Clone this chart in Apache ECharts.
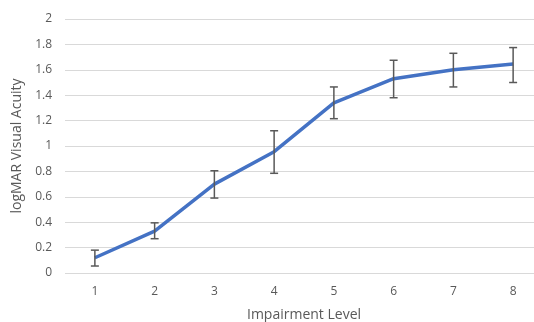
<!DOCTYPE html>
<html>
<head>
<meta charset="utf-8">
<script src="https://cdn.jsdelivr.net/npm/echarts@6/dist/echarts.min.js"></script>
<style>
  html, body { margin: 0; padding: 0; background: #fff; }
  #chart { width: 534px; height: 322px; }
</style>
</head>
<body>
<div id="chart"></div>
<script>
// impairment levels and mean logMAR acuity, with error bar ends
const levels = ['1', '2', '3', '4', '5', '6', '7', '8']
const acuity = [0.12, 0.33, 0.70, 0.955, 1.34, 1.53, 1.60, 1.645]
const errLow = [0.055, 0.27, 0.59, 0.785, 1.215, 1.38, 1.465, 1.50]
const errHigh = [0.18, 0.395, 0.805, 1.12, 1.465, 1.675, 1.73, 1.775]
const yTicks = { min: 0, max: 2, interval: 0.2 }

const textColor = '#595959'
const font = '"Open Sans", "Liberation Sans", sans-serif'

const chart = echarts.init(document.getElementById('chart'))

chart.setOption({
  animation: false,
  grid: { left: 65, right: -9, top: 19, bottom: 49, outerBoundsMode: 'none', containLabel: false },
  xAxis: {
    type: 'category',
    data: levels,
    name: 'Impairment Level',
    nameLocation: 'middle',
    nameGap: 35,
    nameTextStyle: { fontSize: 14, color: textColor, fontFamily: font },
    axisLine: { show: false },
    axisTick: { show: false },
    axisLabel: { fontSize: 12, color: textColor, fontFamily: font, margin: 13 },
  },
  yAxis: {
    type: 'value',
    min: yTicks.min, max: yTicks.max, interval: yTicks.interval,
    name: 'logMAR Visual Acuity',
    nameLocation: 'middle',
    nameGap: 40,
    nameTextStyle: { fontSize: 14, color: textColor, fontFamily: font },
    axisLine: { show: false },
    axisTick: { show: false },
    axisLabel: {
      fontSize: 12, color: textColor, fontFamily: font, margin: 13,
      formatter: v => String(Math.round(v * 10) / 10),
    },
    splitLine: { lineStyle: { color: '#d9d9d9', width: 1 } },
  },
  series: [
    {
      type: 'line',
      data: acuity,
      symbol: 'none',
      lineStyle: { color: '#4472c4', width: 3.5 },
      z: 2,
    },
    {
      type: 'custom',
      data: levels.map((l, i) => [i, errLow[i], errHigh[i]]),
      renderItem: (params, api) => {
        const lo = api.coord([api.value(0), api.value(1)])
        const hi = api.coord([api.value(0), api.value(2)])
        const w = 4
        const style = { stroke: '#595959', lineWidth: 1.5 }
        return {
          type: 'group',
          children: [
            { type: 'line', shape: { x1: lo[0], y1: lo[1], x2: hi[0], y2: hi[1] }, style },
            { type: 'line', shape: { x1: lo[0] - w, y1: lo[1], x2: lo[0] + w, y2: lo[1] }, style },
            { type: 'line', shape: { x1: hi[0] - w, y1: hi[1], x2: hi[0] + w, y2: hi[1] }, style },
          ],
        }
      },
      encode: { x: 0, y: [1, 2] },
      z: 3,
    },
  ],
})
</script>
</body>
</html>
